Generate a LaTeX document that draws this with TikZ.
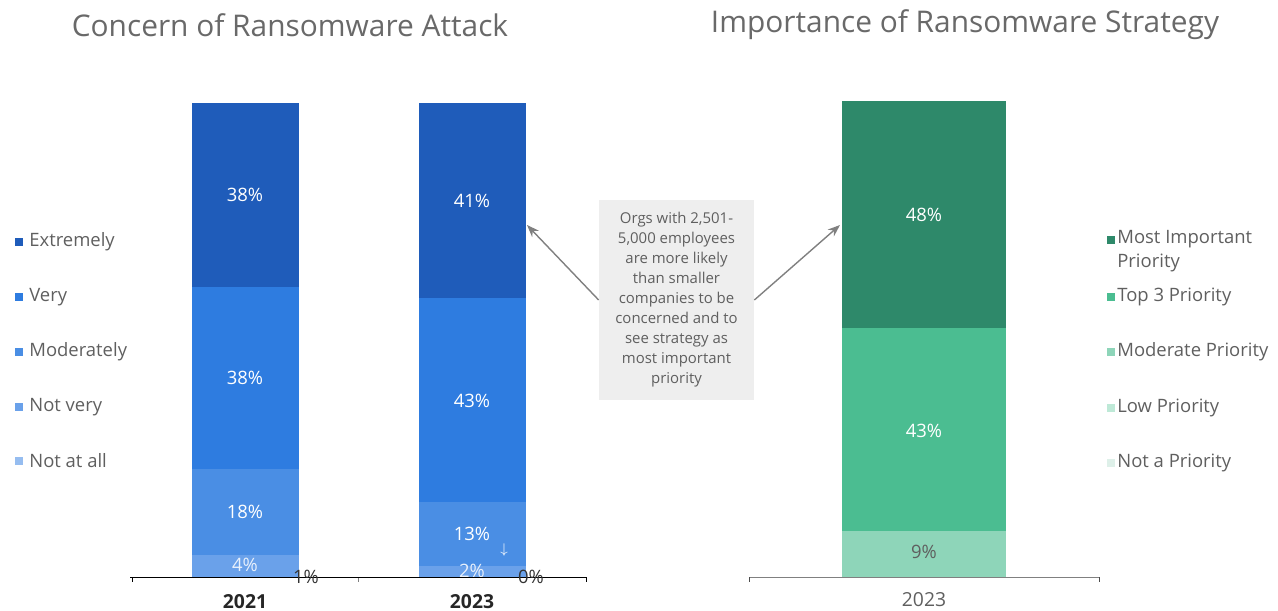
\documentclass[tikz,border=0pt]{standalone}
\usepackage{fontspec}
\setmainfont{Open Sans}
\usetikzlibrary{arrows.meta}
\definecolor{extreme}{RGB}{31,92,186}
\definecolor{very}{RGB}{46,124,224}
\definecolor{moderate}{RGB}{74,142,228}
\definecolor{notvery}{RGB}{106,161,234}
\definecolor{notatall}{RGB}{150,189,240}
\definecolor{mostimp}{RGB}{46,137,106}
\definecolor{topthree}{RGB}{75,189,145}
\definecolor{modprio}{RGB}{142,213,185}
\definecolor{lowprio}{RGB}{190,233,215}
\definecolor{notprio}{RGB}{222,240,233}
\definecolor{titlegray}{RGB}{105,105,105}
\definecolor{textgray}{RGB}{95,95,95}
\definecolor{boxgray}{RGB}{238,238,238}

\begin{document}
\begin{tikzpicture}[x=0.02cm,y=-0.02cm,
    title/.style={text=titlegray,font=\fontsize{17}{20}\selectfont},
    pct/.style={text=white,font=\fontsize{10.5}{12}\selectfont},
    legend/.style={anchor=west,text=textgray,font=\fontsize{10.5}{13}\selectfont,inner sep=0pt},
    year/.style={font=\fontsize{11}{13}\selectfont}]
    \useasboundingbox (0,0) rectangle (1278,611);

    % titles
    \node[title] (t1) at (290,25) {Concern of Ransomware Attack};
    \node[title] (t2) at (965,25) {Importance of Ransomware Strategy};

    % concern: 2021 bar
    \fill[extreme] (192,103) rectangle (299,287);
    \fill[very] (192,287) rectangle (299,469);
    \fill[moderate] (192,469) rectangle (299,555);
    \fill[notvery] (192,555) rectangle (299,577);
    % concern: 2023 bar
    \fill[extreme] (419,103) rectangle (526,298);
    \fill[very] (419,298) rectangle (526,502);
    \fill[moderate] (419,502) rectangle (526,566);
    \fill[notvery] (419,566) rectangle (526,577);

    \node[pct] (a1) at (245,195) {38\%};
    \node[pct] (a2) at (245,378) {38\%};
    \node[pct] (a3) at (245,512) {18\%};
    \node[pct,text=white!85!notvery] (a4) at (245,565) {4\%};
    \node[pct] (b1) at (472,201) {41\%};
    \node[pct] (b2) at (472,401) {43\%};
    \node[pct] (b3) at (472,534) {13\%};
    \node[pct,font=\fontsize{8}{9}\selectfont] (dn) at (504,550) {$\downarrow$};
    \node[pct,text=white!85!notvery] (b4) at (472,571) {2\%};

    % axis
    \draw[black] (130,577) -- (586,577);
    \draw[black] (132,577) -- (132,582);
    \draw[gray] (358,578) -- (358,582);
    \draw[black] (586,577) -- (586,582);
    \node[pct,text=black!80] (a5) at (306,577) {1\%};
    \node[pct,text=black!80] (b5) at (531,577) {0\%};
    \node[year,font=\fontsize{11}{13}\selectfont\bfseries,text=black!85] (y1) at (245,602) {2021};
    \node[year,font=\fontsize{11}{13}\selectfont\bfseries,text=black!85] (y2) at (472,602) {2023};

    % legend
    \foreach \yy/\cc/\tt in {242/extreme/Extremely, 297/very/Very, 352/moderate/Moderately,
            407/notvery/Not very, 461/notatall/Not at all} {
        \fill[\cc] (15,\yy-4) rectangle (23,\yy+4);
        \node[legend] at (29,\yy) {\tt};
    }

    % strategy bar
    \fill[mostimp] (842,101) rectangle (1006,328);
    \fill[topthree] (842,328) rectangle (1006,531);
    \fill[modprio] (842,531) rectangle (1006,577);
    \node[pct] (c1) at (924,215) {48\%};
    \node[pct] (c2) at (924,431) {43\%};
    \node[pct,text=textgray] (c3) at (924,552) {9\%};

    \draw[gray] (749,577) -- (1099,577);
    \draw[black!70] (749,577) -- (749,582);
    \draw[black!70] (1099,577) -- (1099,582);
    \node[year,text=textgray] (y3) at (924,600) {2023};

    \foreach \yy/\cc in {240/mostimp, 297/topthree, 352/modprio, 408/lowprio, 463/notprio}
        \fill[\cc] (1107,\yy-4) rectangle (1115,\yy+4);
    \node[legend,align=left,font=\fontsize{10.5}{13.5}\selectfont] at (1117,251) {Most Important\\Priority};
    \node[legend] at (1117,297) {Top 3 Priority};
    \node[legend] at (1117,352) {Moderate Priority};
    \node[legend] at (1117,408) {Low Priority};
    \node[legend] at (1117,463) {Not a Priority};

    % callout
    \node[fill=boxgray,text=textgray,align=center,minimum width=155*0.02cm,
        minimum height=200*0.02cm,inner sep=2pt,
        font=\fontsize{8.5}{11.4}\selectfont] (note) at (676.5,300)
        {Orgs with 2,501-\\5,000 employees\\are more likely\\than smaller\\companies to be\\
         concerned and to\\see strategy as\\most important\\priority};
    \coordinate (p1) at (527,225);
    \coordinate (p2) at (840,225);
    \draw[gray,thick,-{Stealth[length=7pt]}] (note.west) -- (p1);
    \draw[gray,thick,-{Stealth[length=7pt]}] (note.east) -- (p2);
\end{tikzpicture}
\end{document}
